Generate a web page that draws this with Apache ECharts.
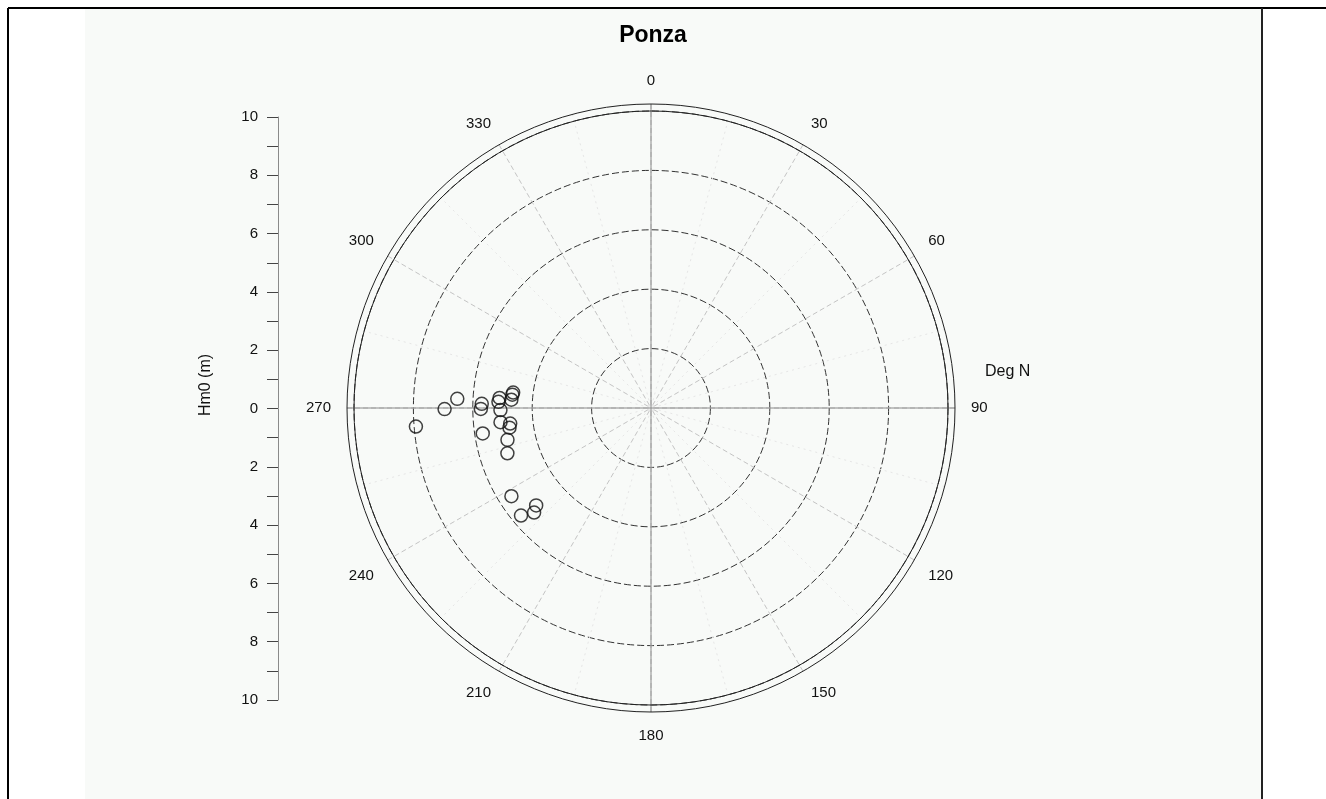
<!DOCTYPE html>
<html>
<head>
<meta charset="utf-8">
<title>Ponza</title>
<script src="https://cdn.jsdelivr.net/npm/echarts@6/dist/echarts.min.js"></script>
<style>
  html, body { margin: 0; padding: 0; background: #ffffff; }
  #chart { width: 1326px; height: 799px; }
</style>
</head>
<body>
<div id="chart"></div>
<script>
  // wave records at Ponza: direction (deg N) and height Hm0 (m)
  const dirDeg = [265.5, 269.7, 272.7, 271.4, 269.7, 261.4, 272.3, 273.8, 275.5, 276.4, 273.4,
                  269.2, 264.6, 263.7, 262.1, 257.5, 252.5, 237.7, 230.4, 228.2, 229.7];
  const hm0    = [7.94, 6.95, 6.53, 5.70, 5.73, 5.73, 5.14, 5.11, 4.69, 4.67, 4.71,
                  5.07, 5.09, 4.77, 4.81, 4.95, 5.07, 5.56, 5.68, 5.28, 5.07];
  const hm0Min = -10, hm0Max = 10;   // left scale reads 10 ... 0 ... 10
  const angleStep = 30;

  const font = '"Liberation Sans", Arial, sans-serif';
  const cx = 651, cy = 408, R = 297;

  let chart = echarts.init(document.getElementById('chart'));

  let hiddenRadius = function (idx) {
    return {
      polarIndex: idx, min: 0, max: hm0Max,
      axisLine: { show: false }, axisTick: { show: false },
      axisLabel: { show: false }, splitLine: { show: false }
    };
  };

  chart.setOption({
    animation: false,
    title: {
      text: 'Ponza', left: 648, top: 19, textAlign: 'center',
      textStyle: { fontFamily: font, fontSize: 23, fontWeight: 'bold', color: '#000' }
    },
    polar: [
      { center: [cx, cy], radius: R },
      { center: [cx, cy], radius: R + 7 },
      { center: [cx, cy], radius: R + 7 }
    ],
    angleAxis: [
      {
        polarIndex: 0, type: 'value', min: 0, max: 360, interval: angleStep,
        startAngle: 90, clockwise: true,
        axisLine: { show: true, lineStyle: { color: '#222', width: 1 } },
        axisTick: { show: false },
        axisLabel: { show: true, margin: 23, color: '#111', fontFamily: font, fontSize: 15 },
        splitLine: { show: false }
      },
      {
        polarIndex: 1, type: 'value', min: 0, max: 360, interval: angleStep,
        startAngle: 90, clockwise: true,
        axisLine: { show: true, lineStyle: { color: '#222', width: 1 } },
        axisTick: { show: false }, axisLabel: { show: false },
        splitLine: { show: true, lineStyle: { color: '#c4c4c4', width: 1, type: [5, 3] } },
        minorTick: { show: false, splitNumber: 2 },
        minorSplitLine: { show: true, lineStyle: { color: '#e6e6e6', width: 1, type: [2, 4] } }
      },
      {
        polarIndex: 2, type: 'value', min: 0, max: 360, interval: 90,
        startAngle: 90, clockwise: true,
        axisLine: { show: false }, axisTick: { show: false }, axisLabel: { show: false },
        splitLine: { show: true, lineStyle: { color: '#8a8a8a', width: 1, type: 'solid' } }
      }
    ],
    radiusAxis: [
      {
        polarIndex: 0, type: 'value', min: 0, max: hm0Max, interval: 2,
        axisLine: { show: false }, axisTick: { show: false }, axisLabel: { show: false },
        splitLine: { show: true, lineStyle: { color: '#333', width: 1, type: [7, 3] } }
      },
      hiddenRadius(1),
      hiddenRadius(2)
    ],
    grid: { left: 278, top: 117, width: 10, height: 583 },
    xAxis: { type: 'value', show: false },
    yAxis: {
      type: 'value', min: hm0Min, max: hm0Max, interval: 1,
      axisLine: { show: true, lineStyle: { color: '#8a8a8a', width: 1 } },
      axisTick: { show: true, inside: false, length: 11, lineStyle: { color: '#444' } },
      axisLabel: {
        margin: 20, color: '#111', fontFamily: font, fontSize: 15,
        formatter: function (v) { return v % 2 === 0 ? String(Math.abs(v)) : ''; }
      },
      splitLine: { show: false }
    },
    graphic: [
      { type: 'rect', z: -100, silent: true, shape: { x: 85, y: 8, width: 1177, height: 791 },
        style: { fill: '#f8faf8' } },
      { type: 'line', shape: { x1: 8, y1: 8, x2: 1326, y2: 8 }, style: { stroke: '#000', lineWidth: 2 } },
      { type: 'line', shape: { x1: 8, y1: 8, x2: 8, y2: 799 }, style: { stroke: '#000', lineWidth: 2 } },
      { type: 'line', shape: { x1: 1262, y1: 8, x2: 1262, y2: 799 }, style: { stroke: '#222', lineWidth: 2 } },
      { type: 'text', x: 206, y: 385, rotation: Math.PI / 2,
        style: { text: 'Hm0 (m)', fill: '#111', font: '16px ' + font, align: 'center', verticalAlign: 'middle' } },
      { type: 'text', x: 985, y: 372,
        style: { text: 'Deg N', fill: '#111', font: '16px ' + font, align: 'left', verticalAlign: 'middle' } }
    ],
    series: [
      {
        type: 'scatter', coordinateSystem: 'polar', polarIndex: 0,
        symbol: 'circle', symbolSize: 13,
        itemStyle: { color: 'rgba(0,0,0,0)', borderColor: '#111', borderWidth: 1.5 },
        data: hm0.map((h, i) => [h, dirDeg[i]])
      }
    ]
  });
</script>
</body>
</html>
